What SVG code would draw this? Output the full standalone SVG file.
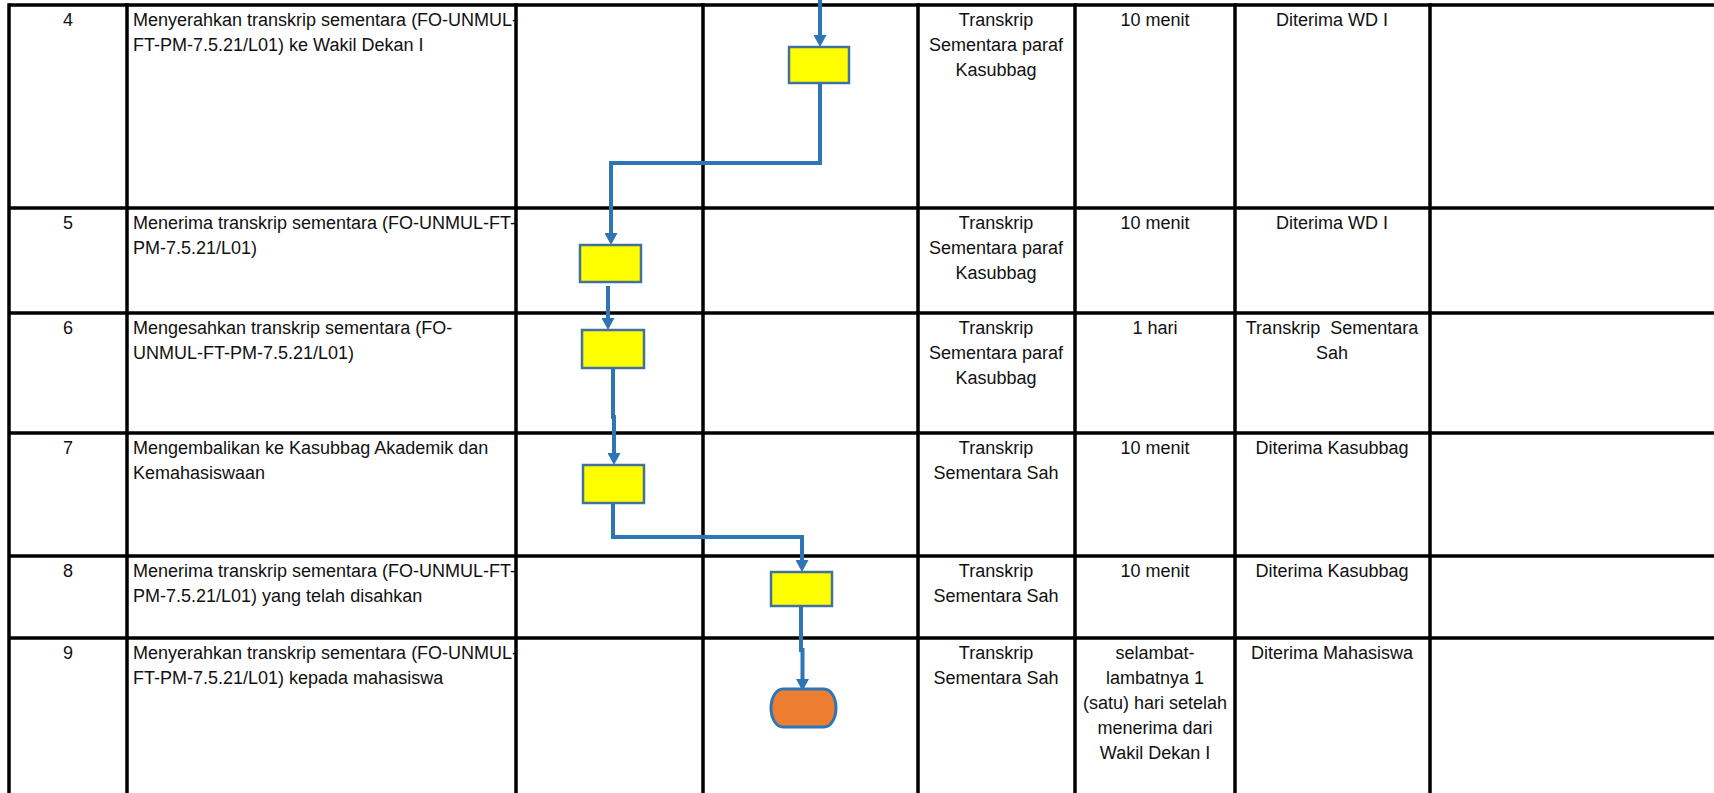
<svg xmlns="http://www.w3.org/2000/svg" width="1714" height="793" viewBox="0 0 1714 793">
<style>
.grid{stroke:#000;stroke-width:3.5;fill:none}
.t{font-family:"Liberation Sans",Arial,sans-serif;font-size:18px;fill:#111}
.c{text-anchor:middle}
.proc{fill:#FFFF00;stroke:#41719C;stroke-width:2.5}
.term{fill:#ED7D31;stroke:#2E75B6;stroke-width:3}
.conn{fill:none;stroke:#2E75B6;stroke-width:4;marker-end:url(#ah)}
</style>
<defs>
<marker id="ah" viewBox="0 0 12 13" markerWidth="12" markerHeight="13" markerUnits="userSpaceOnUse" refX="4" refY="6.5" orient="auto">
<path d="M0,0 L12,6.5 L0,13 z" fill="#2E75B6"/>
</marker>
</defs>
<rect width="1714" height="793" fill="#fff"/>

<g id="texts">
<g id="row4">
<text class="t c" x="68" y="26">4</text>
<text class="t" x="133" y="26">Menyerahkan transkrip sementara (FO-UNMUL-</text>
<text class="t" x="133" y="51">FT-PM-7.5.21/L01) ke Wakil Dekan I</text>
<text class="t c" x="996" y="26">Transkrip</text>
<text class="t c" x="996" y="51">Sementara paraf</text>
<text class="t c" x="996" y="76">Kasubbag</text>
<text class="t c" x="1155" y="26">10 menit</text>
<text class="t c" x="1332" y="26">Diterima WD I</text>
</g>
<g id="row5">
<text class="t c" x="68" y="229">5</text>
<text class="t" x="133" y="229">Menerima transkrip sementara (FO-UNMUL-FT-</text>
<text class="t" x="133" y="254">PM-7.5.21/L01)</text>
<text class="t c" x="996" y="229">Transkrip</text>
<text class="t c" x="996" y="254">Sementara paraf</text>
<text class="t c" x="996" y="279">Kasubbag</text>
<text class="t c" x="1155" y="229">10 menit</text>
<text class="t c" x="1332" y="229">Diterima WD I</text>
</g>
<g id="row6">
<text class="t c" x="68" y="334">6</text>
<text class="t" x="133" y="334">Mengesahkan transkrip sementara (FO-</text>
<text class="t" x="133" y="359">UNMUL-FT-PM-7.5.21/L01)</text>
<text class="t c" x="996" y="334">Transkrip</text>
<text class="t c" x="996" y="359">Sementara paraf</text>
<text class="t c" x="996" y="384">Kasubbag</text>
<text class="t c" x="1155" y="334">1 hari</text>
<text class="t c" x="1332" y="334" xml:space="preserve">Transkrip  Sementara</text>
<text class="t c" x="1332" y="359">Sah</text>
</g>
<g id="row7">
<text class="t c" x="68" y="454">7</text>
<text class="t" x="133" y="454">Mengembalikan ke Kasubbag Akademik dan</text>
<text class="t" x="133" y="479">Kemahasiswaan</text>
<text class="t c" x="996" y="454">Transkrip</text>
<text class="t c" x="996" y="479">Sementara Sah</text>
<text class="t c" x="1155" y="454">10 menit</text>
<text class="t c" x="1332" y="454">Diterima Kasubbag</text>
</g>
<g id="row8">
<text class="t c" x="68" y="577">8</text>
<text class="t" x="133" y="577">Menerima transkrip sementara (FO-UNMUL-FT-</text>
<text class="t" x="133" y="602">PM-7.5.21/L01) yang telah disahkan</text>
<text class="t c" x="996" y="577">Transkrip</text>
<text class="t c" x="996" y="602">Sementara Sah</text>
<text class="t c" x="1155" y="577">10 menit</text>
<text class="t c" x="1332" y="577">Diterima Kasubbag</text>
</g>
<g id="row9">
<text class="t c" x="68" y="659">9</text>
<text class="t" x="133" y="659">Menyerahkan transkrip sementara (FO-UNMUL-</text>
<text class="t" x="133" y="684">FT-PM-7.5.21/L01) kepada mahasiswa</text>
<text class="t c" x="996" y="659">Transkrip</text>
<text class="t c" x="996" y="684">Sementara Sah</text>
<text class="t c" x="1155" y="659">selambat-</text>
<text class="t c" x="1155" y="684">lambatnya 1</text>
<text class="t c" x="1155" y="709">(satu) hari setelah</text>
<text class="t c" x="1155" y="734">menerima dari</text>
<text class="t c" x="1155" y="759">Wakil Dekan I</text>
<text class="t c" x="1332" y="659">Diterima Mahasiswa</text>
</g>
</g>

<g id="table" class="grid">
<path d="M9,5 H1714 M9,208 H1714 M9,313 H1714 M9,433 H1714 M9,556 H1714 M9,638 H1714"/>
<path d="M9,3.25 V793 M127,3.25 V793 M516,3.25 V793 M703,3.25 V793 M918,3.25 V793 M1075,3.25 V793 M1235,3.25 V793 M1430,3.25 V793"/>
</g>

<g id="connectors">
<path class="conn" d="M820,0 V39"/>
<path class="conn" d="M820,83 V163 H611 V237"/>
<path class="conn" d="M608,286 V322"/>
<path class="conn" d="M613,368 V417 H614 V457"/>
<path class="conn" d="M613,503 V537 H802 V564"/>
<path class="conn" d="M801,605 V650 H802.5 V683"/>
</g>

<g id="step4"><rect class="proc" x="789" y="47" width="60" height="36"/></g>
<g id="step5"><rect class="proc" x="580" y="245" width="61" height="37"/></g>
<g id="step6"><rect class="proc" x="582" y="330" width="62" height="38"/></g>
<g id="step7"><rect class="proc" x="583" y="465" width="61" height="38"/></g>
<g id="step8"><rect class="proc" x="771" y="572" width="61" height="34"/></g>
<g id="step9"><rect class="term" x="771" y="689" width="65" height="38" rx="12" ry="19"/></g>
</svg>
